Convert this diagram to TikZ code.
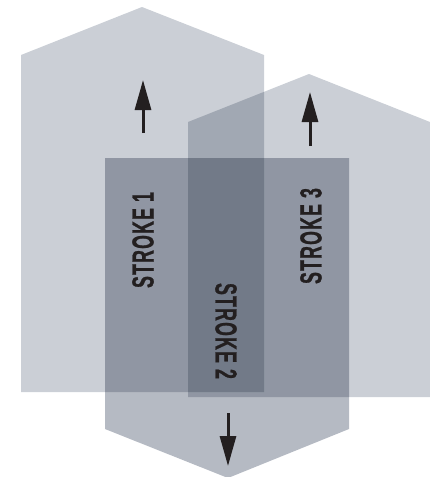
\documentclass[tikz,border=0pt]{standalone}
\usepackage{fontspec}
\setmainfont{Liberation Sans}
\newfontfamily\condfont[FakeStretch=0.58, FakeBold=0.8, LetterSpace=4]{Liberation Sans Bold}
\usetikzlibrary{arrows.meta}
\definecolor{lightshape}{RGB}{203,207,214}
\definecolor{midshape}{RGB}{181,186,195}
\definecolor{inkcol}{RGB}{35,31,32}
\tikzset{
  upshape/.style={fill=lightshape, draw=none},
  downshape/.style={fill=midshape, draw=none},
  movearrow/.style={line width=3pt, -{Triangle[width=16pt,length=30pt]}, inkcol},
  strokelabel/.style={font=\condfont\fontsize{30.5}{30.5}\selectfont, text=inkcol, inner sep=0pt}
}
\begin{document}
\begin{tikzpicture}[x=1pt,y=-1pt]
\useasboundingbox (0,0) rectangle (429,477);
\clip (0,0) rectangle (429,477);
\begin{scope}[blend group=multiply]
  \fill[upshape] (21,392) -- (21,55) -- (142,7) -- (264,55) -- (264,392) -- cycle;
  \fill[upshape] (188,397) -- (188,122) -- (309,74) -- (430,122) -- (430,397) -- cycle;
  \fill[downshape] (105,158) -- (349,158) -- (349,429) -- (228,478) -- (105,429) -- cycle;
\end{scope}
\coordinate (a1s) at (143,133);
\coordinate (a1e) at (143,80);
\coordinate (a3s) at (310,146);
\coordinate (a3e) at (310,92);
\coordinate (a2s) at (228,413);
\coordinate (a2e) at (228,466);
\draw[movearrow] (a1s) -- (a1e);
\draw[movearrow] (a3s) -- (a3e);
\draw[movearrow] (a2s) -- (a2e);
\node[strokelabel, rotate=90] (s1) at (143,240) {STROKE 1};
\node[strokelabel, rotate=-90] (s2) at (226,331) {STROKE 2};
\node[strokelabel, rotate=90] (s3) at (311,236) {STROKE 3};
\end{tikzpicture}
\end{document}
